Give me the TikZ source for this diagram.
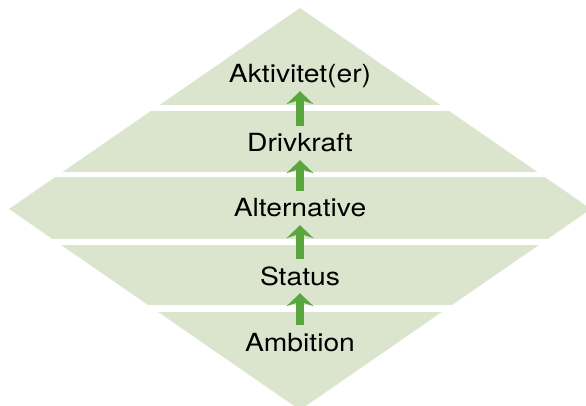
\documentclass[tikz,border=0pt]{standalone}
\usepackage{fontspec}
\setmainfont{TeX Gyre Heros}[FakeStretch=1.13]
\usetikzlibrary{arrows.meta}

\definecolor{bandgreen}{RGB}{219,229,206}
\definecolor{arrowgreen}{RGB}{90,166,62}

\begin{document}
\begin{tikzpicture}[
    x=1pt, y=-1pt,
    band/.style={fill=bandgreen},
    gap/.style={fill=white},
    lbl/.style={font=\fontsize{25}{30}\selectfont, text=black, inner sep=0pt, text height=18pt, text depth=5pt, anchor=base},
    uparrow/.style={-{Stealth[length=13pt, width=27pt, inset=4.5pt, line width=0pt]}, line width=7.5pt, arrowgreen, shorten >=3pt, shorten <=8pt}
  ]
    \useasboundingbox (0,0) rectangle (586,406);
    % diamond, cut into five bands by white gaps
    \fill[band] (300,8) -- (591,209) -- (300,410) -- (9,209) -- cycle;
    \foreach \ya/\yb in {105/111, 172/177, 239/245, 305/312}
      \fill[gap] (-5,\ya) rectangle (600,\yb);
    \node[lbl] (akt) at (300,83) {Aktivitet(er)};
    \node[lbl] (drv) at (300,152) {Drivkraft};
    \node[lbl] (alt) at (300,217) {Alternative};
    \node[lbl] (sta) at (300,285) {Status};
    \node[lbl] (amb) at (300,351) {Ambition};
    \draw[uparrow] (amb) -- (sta);
    \draw[uparrow] (sta) -- (alt);
    \draw[uparrow] (alt) -- (drv);
    \draw[uparrow] (drv) -- (akt);
\end{tikzpicture}
\end{document}
